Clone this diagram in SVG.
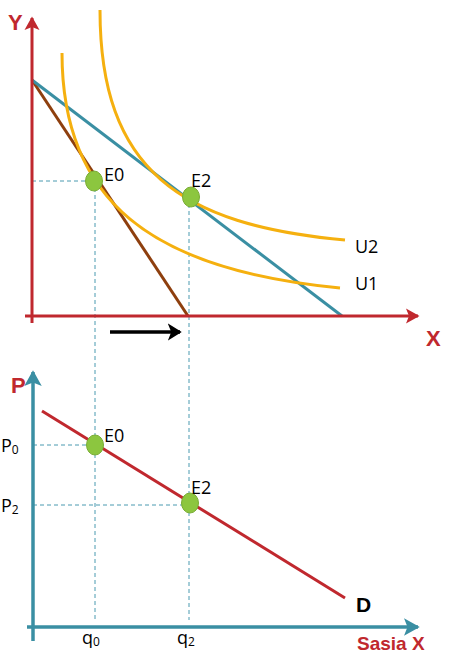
<svg xmlns="http://www.w3.org/2000/svg" width="449" height="655" viewBox="0 0 449 655">
<style>
.ax-r{stroke:#C0282E;stroke-width:3;fill:none}
.ax-t{stroke:#3A8FA3;stroke-width:3.5;fill:none}
.dash{stroke:#4A9AB0;stroke-width:1;stroke-dasharray:4 3;fill:none}
.ic{stroke:#F5B00F;stroke-width:3;fill:none}
.pt{fill:#8CC63F;stroke:#79AC35;stroke-width:1}
.lbl{font-family:"Open Sans","Liberation Sans",sans-serif;font-size:18px;fill:#000}
.big{font-family:"Liberation Sans",sans-serif;font-weight:bold;fill:#C0282E}
</style>
<defs>
<marker id="ar" markerWidth="6" markerHeight="6" refX="4" refY="3" orient="auto" markerUnits="strokeWidth"><path d="M0,0.5 L4.5,3 L0,5.5 L1,3 Z" fill="#C0282E"/></marker>
<marker id="at" markerWidth="6" markerHeight="6" refX="4" refY="3" orient="auto" markerUnits="strokeWidth"><path d="M0,0.5 L4.5,3 L0,5.5 L1,3 Z" fill="#3A8FA3"/></marker>
<marker id="ak" markerWidth="6" markerHeight="6" refX="3.5" refY="3" orient="auto" markerUnits="strokeWidth"><path d="M0,0.5 L4,3 L0,5.5 L1,3 Z" fill="#000"/></marker>
</defs>
<g id="connectors">
<line class="dash" x1="32" y1="181" x2="93" y2="181"/>
<line class="dash" x1="95" y1="181" x2="95" y2="620"/>
<line class="dash" x1="189" y1="197" x2="189" y2="620"/>
<line class="dash" x1="33" y1="445" x2="95" y2="445"/>
<line class="dash" x1="33" y1="505" x2="190" y2="505"/>
<line x1="32" y1="80" x2="188" y2="316" stroke="#8E3F0E" stroke-width="3"/>
<line x1="32" y1="80" x2="342" y2="316" stroke="#3A8FA3" stroke-width="3"/>
<path class="ic" d="M62,53 C62,200 150,270 340,288"/>
<path class="ic" d="M100,10 C100,170 180,225 345,240"/>
<line x1="42" y1="411" x2="345" y2="598" stroke="#C0282E" stroke-width="3"/>
<line x1="110" y1="332" x2="180" y2="332" stroke="#000" stroke-width="3.5" marker-end="url(#ak)"/>
</g>
<g id="axes-top">
<line class="ax-r" x1="32" y1="323" x2="32" y2="18" marker-end="url(#ar)"/>
<line class="ax-r" x1="25" y1="316" x2="418" y2="316" marker-end="url(#ar)"/>
<text class="big" x="8" y="30" font-size="22">Y</text>
<text class="big" x="426" y="346" font-size="22">X</text>
</g>
<g id="axes-bottom">
<line class="ax-t" x1="33" y1="641" x2="33" y2="372" marker-end="url(#at)"/>
<line class="ax-t" x1="27" y1="627" x2="418" y2="627" marker-end="url(#at)"/>
<text class="big" x="11" y="393" font-size="22">P</text>
<text class="big" x="357" y="650" font-size="19">Sasia X</text>
</g>
<g id="E0-top"><ellipse class="pt" cx="94" cy="181" rx="8.5" ry="10"/><text class="lbl" x="104" y="181">E0</text></g>
<g id="E2-top"><ellipse class="pt" cx="191" cy="197" rx="8.5" ry="10"/><text class="lbl" x="191" y="187">E2</text></g>
<g id="U2"><text class="lbl" x="355" y="253" font-size="18">U2</text></g>
<g id="U1"><text class="lbl" x="355" y="290" font-size="18">U1</text></g>
<g id="E0-bottom"><ellipse class="pt" cx="95" cy="445" rx="8.5" ry="10"/><text class="lbl" x="104" y="442">E0</text></g>
<g id="E2-bottom"><ellipse class="pt" cx="190" cy="503" rx="8.5" ry="10"/><text class="lbl" x="191" y="494">E2</text></g>
<g id="D"><text x="356" y="612" font-family="Liberation Sans,sans-serif" font-weight="bold" font-size="21" fill="#000">D</text></g>
<g id="ticks">
<text class="lbl" x="1" y="452">P<tspan font-size="12" dy="2">0</tspan></text>
<text class="lbl" x="1" y="512">P<tspan font-size="12" dy="2">2</tspan></text>
<text class="lbl" x="82" y="644">q<tspan font-size="12" dy="2">0</tspan></text>
<text class="lbl" x="177" y="644">q<tspan font-size="12" dy="2">2</tspan></text>
</g>
</svg>
